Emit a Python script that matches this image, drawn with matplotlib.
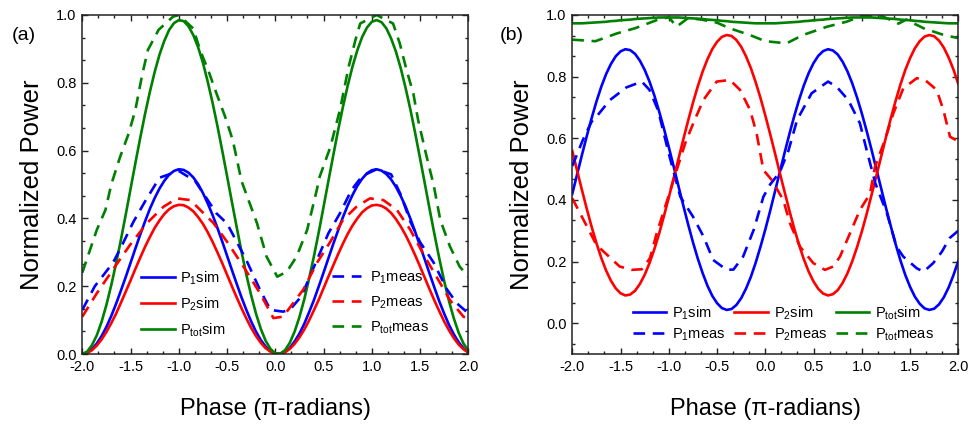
import numpy as np
import matplotlib
matplotlib.use("Agg")
import matplotlib.pyplot as plt
from matplotlib.ticker import AutoMinorLocator

plt.rcParams['font.family'] = ['Liberation Sans', 'DejaVu Sans']
plt.rcParams['mathtext.fontset'] = 'custom'
plt.rcParams['mathtext.rm'] = 'Liberation Sans'
plt.rcParams['mathtext.it'] = 'Liberation Sans'
plt.rcParams['mathtext.bf'] = 'Liberation Sans'

# ---------------- data ----------------
phase_sim = np.round(np.linspace(-2.0, 2.0, 81), 3)

# panel (a) simulated
a_p1_sim = [0.000, 0.004, 0.014, 0.031, 0.053, 0.080, 0.112, 0.148, 0.187, 0.227,
            0.269, 0.311, 0.352, 0.391, 0.428, 0.460, 0.488, 0.511, 0.529, 0.540,
            0.545, 0.543, 0.535, 0.521, 0.501, 0.475, 0.444, 0.410, 0.372, 0.332,
            0.290, 0.248, 0.207, 0.167, 0.130, 0.096, 0.066, 0.041, 0.022, 0.008,
            0.001, 0.001, 0.006, 0.018, 0.037, 0.060, 0.089, 0.123, 0.159, 0.199,
            0.240, 0.282, 0.324, 0.364, 0.403, 0.438, 0.469, 0.496, 0.517, 0.533,
            0.542, 0.545, 0.541, 0.531, 0.515, 0.493, 0.466, 0.435, 0.399, 0.360,
            0.319, 0.278, 0.236, 0.195, 0.155, 0.119, 0.086, 0.058, 0.035, 0.017, 0.005]
a_p2_sim = [0.000, 0.003, 0.011, 0.025, 0.043, 0.065, 0.091, 0.119, 0.151, 0.184,
            0.217, 0.251, 0.284, 0.316, 0.345, 0.372, 0.394, 0.413, 0.427, 0.436,
            0.440, 0.439, 0.432, 0.421, 0.404, 0.384, 0.359, 0.331, 0.300, 0.268,
            0.234, 0.200, 0.167, 0.135, 0.105, 0.077, 0.053, 0.033, 0.017, 0.007,
            0.001, 0.000, 0.005, 0.015, 0.030, 0.049, 0.072, 0.099, 0.129, 0.160,
            0.194, 0.228, 0.261, 0.294, 0.325, 0.354, 0.379, 0.400, 0.418, 0.430,
            0.438, 0.440, 0.437, 0.429, 0.416, 0.398, 0.376, 0.351, 0.322, 0.291,
            0.258, 0.224, 0.190, 0.157, 0.126, 0.096, 0.070, 0.047, 0.028, 0.014, 0.004]
a_ptot_sim = [0.000, 0.007, 0.026, 0.055, 0.095, 0.145, 0.203, 0.267, 0.337, 0.411,
              0.487, 0.563, 0.637, 0.708, 0.773, 0.832, 0.883, 0.924, 0.956, 0.976,
              0.985, 0.982, 0.967, 0.941, 0.905, 0.859, 0.803, 0.741, 0.673, 0.600,
              0.525, 0.449, 0.374, 0.302, 0.234, 0.173, 0.119, 0.074, 0.039, 0.015,
              0.002, 0.001, 0.011, 0.033, 0.066, 0.109, 0.161, 0.222, 0.288, 0.359,
              0.434, 0.510, 0.585, 0.659, 0.728, 0.791, 0.848, 0.896, 0.935, 0.963,
              0.980, 0.985, 0.979, 0.961, 0.931, 0.892, 0.843, 0.785, 0.721, 0.651,
              0.577, 0.502, 0.426, 0.352, 0.281, 0.215, 0.156, 0.105, 0.063, 0.031, 0.010]

# panel (a) measured
a_p1_meas_x = [-2.0, -1.87, -1.68, -1.59, -1.47, -1.35, -1.2, -1.0, -0.83, -0.61, -0.5, -0.3,
               -0.16, -0.05, 0.08, 0.15, 0.27, 0.39, 0.55, 0.67, 0.79, 0.9, 1.05, 1.2, 1.3,
               1.4, 1.5, 1.64, 1.78, 1.88, 2.0]
a_p1_meas_y = [0.13, 0.20, 0.27, 0.32, 0.39, 0.45, 0.52, 0.54, 0.51, 0.415, 0.385, 0.277,
               0.19, 0.13, 0.125, 0.13, 0.17, 0.25, 0.356, 0.415, 0.484, 0.525, 0.545, 0.53, 0.47,
               0.39, 0.33, 0.27, 0.19, 0.15, 0.12]
a_p2_meas_x = [-2.0, -1.85, -1.68, -1.51, -1.33, -1.16, -1.02, -0.88, -0.64, -0.5, -0.33, -0.16,
               -0.02, 0.08, 0.29, 0.43, 0.57, 0.70, 0.84, 0.98, 1.12, 1.26, 1.40, 1.53, 1.67,
               1.81, 1.95, 2.0]
a_p2_meas_y = [0.11, 0.179, 0.25, 0.32, 0.386, 0.434, 0.459, 0.454, 0.386, 0.331, 0.258, 0.18,
               0.106, 0.11, 0.19, 0.268, 0.331, 0.395, 0.434, 0.459, 0.454, 0.425, 0.366, 0.297, 0.228,
               0.159, 0.11, 0.105]
a_ptot_meas_x = [-2.0, -1.85, -1.76, -1.70, -1.61, -1.52, -1.45, -1.38, -1.32, -1.21, -1.06, -1.0,
                 -0.85, -0.78, -0.69, -0.61, -0.52, -0.44, -0.35, -0.19, -0.09, 0.02, 0.12, 0.22,
                 0.33, 0.43, 0.46, 0.57, 0.67, 0.76, 0.83, 0.88, 1.05, 1.22, 1.29, 1.36, 1.43,
                 1.48, 1.57, 1.64, 1.71, 1.81, 1.91, 2.0]
a_ptot_meas_y = [0.24, 0.366, 0.425, 0.50, 0.58, 0.65, 0.72, 0.823, 0.897, 0.956, 0.995, 1.0,
                 0.96, 0.897, 0.833, 0.769, 0.70, 0.63, 0.51, 0.386, 0.287, 0.228, 0.243, 0.287,
                 0.366, 0.484, 0.523, 0.61, 0.72, 0.847, 0.926, 0.975, 1.0, 0.975, 0.916, 0.838, 0.769,
                 0.69, 0.58, 0.50, 0.395, 0.317, 0.258, 0.228]

# panel (b) simulated
b_p1_sim = [0.420, 0.483, 0.546, 0.607, 0.665, 0.719, 0.767, 0.808, 0.841, 0.866,
            0.882, 0.889, 0.886, 0.874, 0.852, 0.822, 0.784, 0.739, 0.687, 0.631,
            0.571, 0.509, 0.445, 0.382, 0.321, 0.263, 0.210, 0.163, 0.122, 0.089,
            0.065, 0.049, 0.043, 0.046, 0.059, 0.081, 0.112, 0.150, 0.196, 0.248,
            0.304, 0.364, 0.427, 0.490, 0.553, 0.614, 0.672, 0.725, 0.772, 0.812,
            0.844, 0.868, 0.883, 0.889, 0.885, 0.872, 0.849, 0.818, 0.779, 0.733,
            0.681, 0.624, 0.564, 0.501, 0.438, 0.375, 0.315, 0.257, 0.204, 0.157,
            0.118, 0.086, 0.063, 0.048, 0.043, 0.047, 0.061, 0.084, 0.116, 0.156, 0.202]
b_p2_sim = [0.559, 0.495, 0.432, 0.371, 0.313, 0.260, 0.212, 0.171, 0.138, 0.113,
            0.097, 0.090, 0.093, 0.105, 0.127, 0.157, 0.195, 0.240, 0.291, 0.348,
            0.408, 0.470, 0.533, 0.596, 0.657, 0.715, 0.768, 0.816, 0.856, 0.889,
            0.913, 0.929, 0.935, 0.932, 0.919, 0.897, 0.866, 0.828, 0.782, 0.731,
            0.674, 0.614, 0.552, 0.488, 0.426, 0.365, 0.307, 0.254, 0.207, 0.167,
            0.135, 0.111, 0.096, 0.090, 0.094, 0.107, 0.130, 0.161, 0.200, 0.246,
            0.297, 0.354, 0.415, 0.477, 0.540, 0.603, 0.664, 0.721, 0.774, 0.821,
            0.860, 0.892, 0.915, 0.930, 0.935, 0.931, 0.917, 0.894, 0.862, 0.823, 0.776]
b_ptot_sim = [0.973, 0.973, 0.973, 0.974, 0.975, 0.976, 0.977, 0.978, 0.980, 0.981,
              0.983, 0.984, 0.985, 0.987, 0.988, 0.989, 0.990, 0.991, 0.992, 0.992,
              0.992, 0.992, 0.992, 0.991, 0.990, 0.989, 0.988, 0.987, 0.985, 0.984,
              0.983, 0.981, 0.980, 0.978, 0.977, 0.976, 0.975, 0.974, 0.973, 0.973,
              0.973, 0.973, 0.973, 0.974, 0.975, 0.976, 0.977, 0.978, 0.980, 0.981,
              0.983, 0.984, 0.985, 0.987, 0.988, 0.989, 0.990, 0.991, 0.992, 0.992,
              0.992, 0.992, 0.992, 0.991, 0.990, 0.989, 0.988, 0.987, 0.985, 0.984,
              0.983, 0.981, 0.980, 0.978, 0.977, 0.976, 0.975, 0.974, 0.973, 0.973, 0.973]

# panel (b) measured
b_p1_meas_x = [-2.0, -1.89, -1.80, -1.75, -1.61, -1.44, -1.28, -1.20, -1.11, -1.0, -0.88, -0.75,
               -0.64, -0.54, -0.40, -0.33, -0.23, -0.12, -0.02, 0.05, 0.15, 0.24, 0.33, 0.48,
               0.65, 0.74, 0.86, 0.98, 1.05, 1.14, 1.26, 1.36, 1.43, 1.57, 1.64, 1.74, 1.83,
               1.91, 2.0]
b_p1_meas_y = [0.51, 0.595, 0.654, 0.67, 0.724, 0.765, 0.784, 0.757, 0.69, 0.55, 0.41, 0.346,
               0.281, 0.205, 0.173, 0.174, 0.216, 0.303, 0.41, 0.45, 0.49, 0.56, 0.66, 0.746,
               0.784, 0.767, 0.724, 0.649, 0.562, 0.454, 0.357, 0.248, 0.216, 0.178, 0.167, 0.195, 0.232,
               0.276, 0.30]
b_p2_meas_x = [-2.0, -1.92, -1.83, -1.75, -1.64, -1.51, -1.385, -1.28, -1.195, -1.125, -1.07,
               -1.005, -0.918, -0.83, -0.746, -0.642, -0.504, -0.366, -0.262, -0.158, -0.09,
               -0.02, 0.066, 0.186, 0.256, 0.36, 0.497, 0.618, 0.705, 0.774, 0.878, 0.98, 1.085,
               1.137, 1.24, 1.327, 1.43, 1.57, 1.655, 1.776, 1.845, 1.914, 2.0]
b_p2_meas_y = [0.405, 0.357, 0.303, 0.254, 0.222, 0.184, 0.173, 0.175, 0.211, 0.292, 0.346,
               0.41, 0.497, 0.584, 0.649, 0.724, 0.784, 0.789, 0.757, 0.692, 0.616,
               0.497, 0.465, 0.40, 0.324, 0.248, 0.195, 0.173, 0.184, 0.216, 0.292, 0.367, 0.42,
               0.508, 0.595, 0.681, 0.762, 0.795, 0.789, 0.757, 0.692, 0.605, 0.59]
b_ptot_meas_x = [-2.0, -1.76, -1.54, -1.35, -1.12, -1.0, -0.92, -0.80, -0.66, -0.50, -0.37, -0.16,
                 0.0, 0.22, 0.39, 0.64, 0.84, 1.0, 1.22, 1.38, 1.46, 1.64, 1.85, 2.0]
b_ptot_meas_y = [0.92, 0.915, 0.94, 0.957, 0.984, 0.993, 0.962, 0.99, 0.985, 0.975, 0.957, 0.935,
                 0.915, 0.908, 0.935, 0.962, 0.978, 0.997, 0.995, 0.972, 0.985, 0.957, 0.935, 0.925]

labels_sim = [r"P$_{\mathrm{1}}$sim", r"P$_{\mathrm{2}}$sim", r"P$_{\mathrm{tot}}$sim"]
labels_meas = [r"P$_{\mathrm{1}}$meas", r"P$_{\mathrm{2}}$meas", r"P$_{\mathrm{tot}}$meas"]
xticks = [-2.0, -1.5, -1.0, -0.5, 0.0, 0.5, 1.0, 1.5, 2.0]
yticks = [0.0, 0.2, 0.4, 0.6, 0.8, 1.0]

# ---------------- style ----------------
colors = ['#0000FF', '#FF0000', '#008000']
LW = 1.9
DASH = (0, (4.4, 2.9))
LEGFS = 10.5

fig = plt.figure(figsize=(9.69, 4.24), dpi=100)
ax_a = fig.add_axes([82.3 / 969, 70 / 424, 386 / 969, 339 / 424])
ax_b = fig.add_axes([572.3 / 969, 70 / 424, 386 / 969, 339 / 424])


def style_axes(ax, ylim):
    ax.set_xlim(-2.0, 2.0)
    ax.set_ylim(*ylim)
    ax.set_xticks(xticks)
    ax.set_xticklabels([f"{t:.1f}" for t in xticks])
    ax.set_yticks(yticks)
    ax.set_yticklabels([f"{t:.1f}" for t in yticks])
    ax.xaxis.set_minor_locator(AutoMinorLocator(3))
    ax.yaxis.set_minor_locator(AutoMinorLocator(3))
    ax.tick_params(which='both', direction='in', top=True, right=True,
                   labelsize=10.5, width=1.0, colors='#222222', labelcolor='black')
    ax.tick_params(which='major', length=4.5, pad=4)
    ax.tick_params(which='minor', length=2.5)
    for s in ax.spines.values():
        s.set_linewidth(1.1)
        s.set_color('#222222')
    ax.set_xlabel("Phase (\u03c0-radians)", fontsize=17)
    ax.set_ylabel("Normalized Power", fontsize=18.5)
    ax.xaxis.set_label_coords(0.5, -0.13)
    ax.yaxis.set_label_coords(-0.10, 0.5)


# panel (a)
sims_a = [a_p1_sim, a_p2_sim, a_ptot_sim]
meas_a = [(a_p1_meas_x, a_p1_meas_y), (a_p2_meas_x, a_p2_meas_y), (a_ptot_meas_x, a_ptot_meas_y)]
hs_a, hm_a = [], []
for i in range(3):
    h, = ax_a.plot(phase_sim, sims_a[i], color=colors[i], lw=LW, label=labels_sim[i])
    hs_a.append(h)
for i in range(3):
    h, = ax_a.plot(meas_a[i][0], meas_a[i][1], color=colors[i], lw=LW, linestyle=DASH,
                   label=labels_meas[i])
    hm_a.append(h)
style_axes(ax_a, (0.0, 1.0))
leg1 = ax_a.legend(handles=hs_a, loc='upper left', bbox_to_anchor=(0.152, 0.25),
                   frameon=False, fontsize=LEGFS, handlelength=2.3, handletextpad=0.4,
                   labelspacing=0.6, borderpad=0, borderaxespad=0)
ax_a.add_artist(leg1)
ax_a.legend(handles=hm_a, loc='upper left', bbox_to_anchor=(0.647, 0.25),
            frameon=False, fontsize=LEGFS, handlelength=2.0, handletextpad=0.6,
            labelspacing=0.6, borderpad=0, borderaxespad=0)

# panel (b)
sims_b = [b_p1_sim, b_p2_sim, b_ptot_sim]
meas_b = [(b_p1_meas_x, b_p1_meas_y), (b_p2_meas_x, b_p2_meas_y), (b_ptot_meas_x, b_ptot_meas_y)]
hs_b, hm_b = [], []
for i in range(3):
    h, = ax_b.plot(phase_sim, sims_b[i], color=colors[i], lw=LW, label=labels_sim[i])
    hs_b.append(h)
for i in range(3):
    h, = ax_b.plot(meas_b[i][0], meas_b[i][1], color=colors[i], lw=LW, linestyle=DASH,
                   label=labels_meas[i])
    hm_b.append(h)
style_axes(ax_b, (-0.1, 1.0))
handles_b = [hs_b[0], hm_b[0], hs_b[1], hm_b[1], hs_b[2], hm_b[2]]
ax_b.legend(handles=handles_b, loc='upper left', bbox_to_anchor=(0.157, 0.146), ncol=3,
            frameon=False, fontsize=LEGFS, handlelength=2.3, handletextpad=0.4,
            labelspacing=0.3, columnspacing=0.6, borderpad=0, borderaxespad=0)

fig.text(12 / 969, 1 - 27 / 424, "(a)", fontsize=14, va='top', ha='left')
fig.text(500 / 969, 1 - 27 / 424, "(b)", fontsize=14, va='top', ha='left')

fig.savefig("out.png", dpi=100)
